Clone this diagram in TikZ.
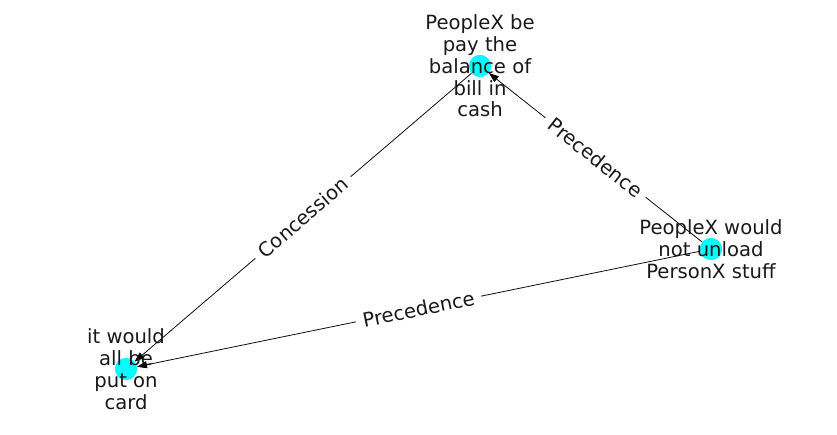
\documentclass[tikz,border=0pt]{standalone}
\usepackage{fontspec}
\setmainfont{DejaVu Sans}
\usetikzlibrary{arrows.meta}
\definecolor{nodecyan}{HTML}{00FFFF}
\begin{document}
\begin{tikzpicture}[x=1pt,y=1pt,
  dot/.style={circle,fill=nodecyan,minimum size=22pt,inner sep=0pt},
  lbl/.style={align=center,font=\fontsize{19.6}{21.8}\selectfont,text=black!90},
  edge/.style={draw=black,line width=0.75pt,-{Triangle[length=10pt,width=7pt]}},
  elbl/.style={midway,sloped,fill=white,inner xsep=7pt,inner ysep=3pt,font=\fontsize{19.6}{21.8}\selectfont,text=black!90}]
\useasboundingbox (0,0) rectangle (837,434);
\coordinate (pA) at (480,368);
\coordinate (pB) at (711,185);
\coordinate (pC) at (126,65);
\node[dot] (A) at (pA) {};
\node[dot] (B) at (pB) {};
\node[dot] (C) at (pC) {};
\draw[edge] (B) -- node[elbl] {Precedence} (A);
\draw[edge] (A) -- node[elbl] {Concession} (C);
\draw[edge] (B) -- node[elbl] {Precedence} (C);
\node[dot] at (pA) {};
\node[dot] at (pB) {};
\node[dot] at (pC) {};
\node[lbl] (tA) at (pA) {PeopleX be\\pay the\\balance of\\bill in\\cash};
\node[lbl] (tB) at (pB) {PeopleX would\\not unload\\PersonX stuff};
\node[lbl] (tC) at (pC) {it would\\all be\\put on\\card};
\end{tikzpicture}
\end{document}
